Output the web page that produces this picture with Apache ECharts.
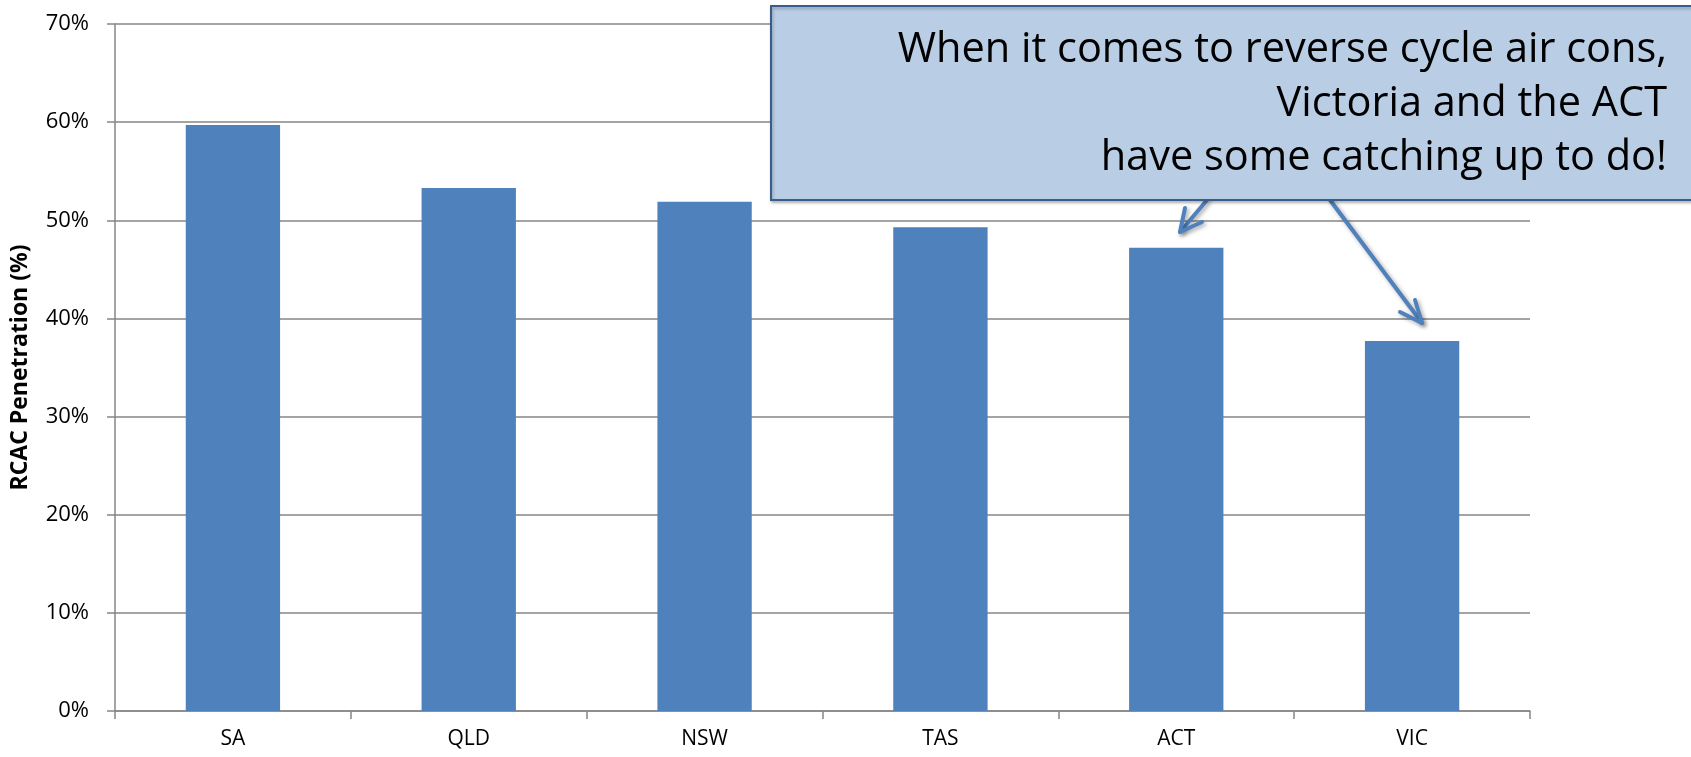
<!DOCTYPE html>
<html>
<head>
<meta charset="utf-8">
<script src="https://cdn.jsdelivr.net/npm/echarts@6/dist/echarts.min.js"></script>
<style>
html,body{margin:0;padding:0;background:#fff;}
#chart{width:1691px;height:757px;}
</style>
</head>
<body>
<div id="chart"></div>
<script>
const categories = ['SA', 'QLD', 'NSW', 'TAS', 'ACT', 'VIC'];
const penetration = [59.7, 53.3, 51.9, 49.3, 47.2, 37.7];
const yTicks = [0, 10, 20, 30, 40, 50, 60, 70];
const calloutLines = [
  'When it comes to reverse cycle air cons,',
  'Victoria and the ACT',
  'have some catching up to do!'
];

const FONT = '"Open Sans", "Noto Sans", sans-serif';
const chart = echarts.init(document.getElementById('chart'));

const arrowStyle = {
  stroke: '#4F81BD', lineWidth: 4, lineCap: 'round', lineJoin: 'round', fill: null,
  shadowBlur: 4, shadowColor: 'rgba(0,0,0,0.35)', shadowOffsetX: 2, shadowOffsetY: 2
};

chart.setOption({
  animation: false,
  grid: { left: 115, right: 161, top: 24, bottom: 46, containLabel: false, outerBoundsMode: 'none' },
  xAxis: {
    type: 'category',
    data: categories,
    axisLine: { lineStyle: { color: '#868686', width: 1.5 } },
    axisTick: { show: true, length: 8, alignWithLabel: false, lineStyle: { color: '#868686', width: 1.5 } },
    axisLabel: { color: '#000', fontFamily: FONT, fontSize: 21, margin: 18 }
  },
  yAxis: {
    type: 'value',
    min: yTicks[0],
    max: yTicks[yTicks.length - 1],
    interval: 10,
    name: 'RCAC Penetration (%)',
    nameLocation: 'middle',
    nameRotate: 90,
    nameGap: 83,
    nameTextStyle: { color: '#000', fontFamily: FONT, fontSize: 23, fontWeight: 'bold' },
    axisLine: { show: true, lineStyle: { color: '#868686', width: 1.5 } },
    axisTick: { show: true, inside: false, length: 8, lineStyle: { color: '#868686', width: 1.5 } },
    axisLabel: { color: '#000', fontFamily: FONT, fontSize: 22, margin: 26, formatter: v => v + '%' },
    splitLine: { show: true, lineStyle: { color: '#868686', width: 1.5 } }
  },
  series: [{
    type: 'bar',
    data: penetration,
    barWidth: '40%',
    itemStyle: { color: '#4F81BD' }
  }],
  graphic: [
    {
      type: 'rect', z: 100,
      shape: { x: 771, y: 6, width: 1000, height: 194 },
      style: { fill: '#B9CDE5', stroke: '#385D8A', lineWidth: 2,
               shadowBlur: 3, shadowColor: 'rgba(0,0,0,0.25)', shadowOffsetX: 1, shadowOffsetY: 2 }
    },
    ...calloutLines.map((t, i) => ({
      type: 'text', z: 101,
      x: 1667, y: 50 + i * 54,
      style: { text: t, fill: '#000', font: '41.5px ' + FONT, textAlign: 'right', textVerticalAlign: 'middle' }
    })),
    { type: 'polyline', z: 99, shape: { points: [[1207, 200], [1180, 232]] }, style: arrowStyle },
    { type: 'polyline', z: 99, shape: { points: [[1185, 208], [1180, 232], [1202, 222]] }, style: arrowStyle },
    { type: 'polyline', z: 99, shape: { points: [[1330, 200], [1422, 323]] }, style: arrowStyle },
    { type: 'polyline', z: 99, shape: { points: [[1415, 300], [1422, 323], [1400, 312]] }, style: arrowStyle }
  ]
});
</script>
</body>
</html>
